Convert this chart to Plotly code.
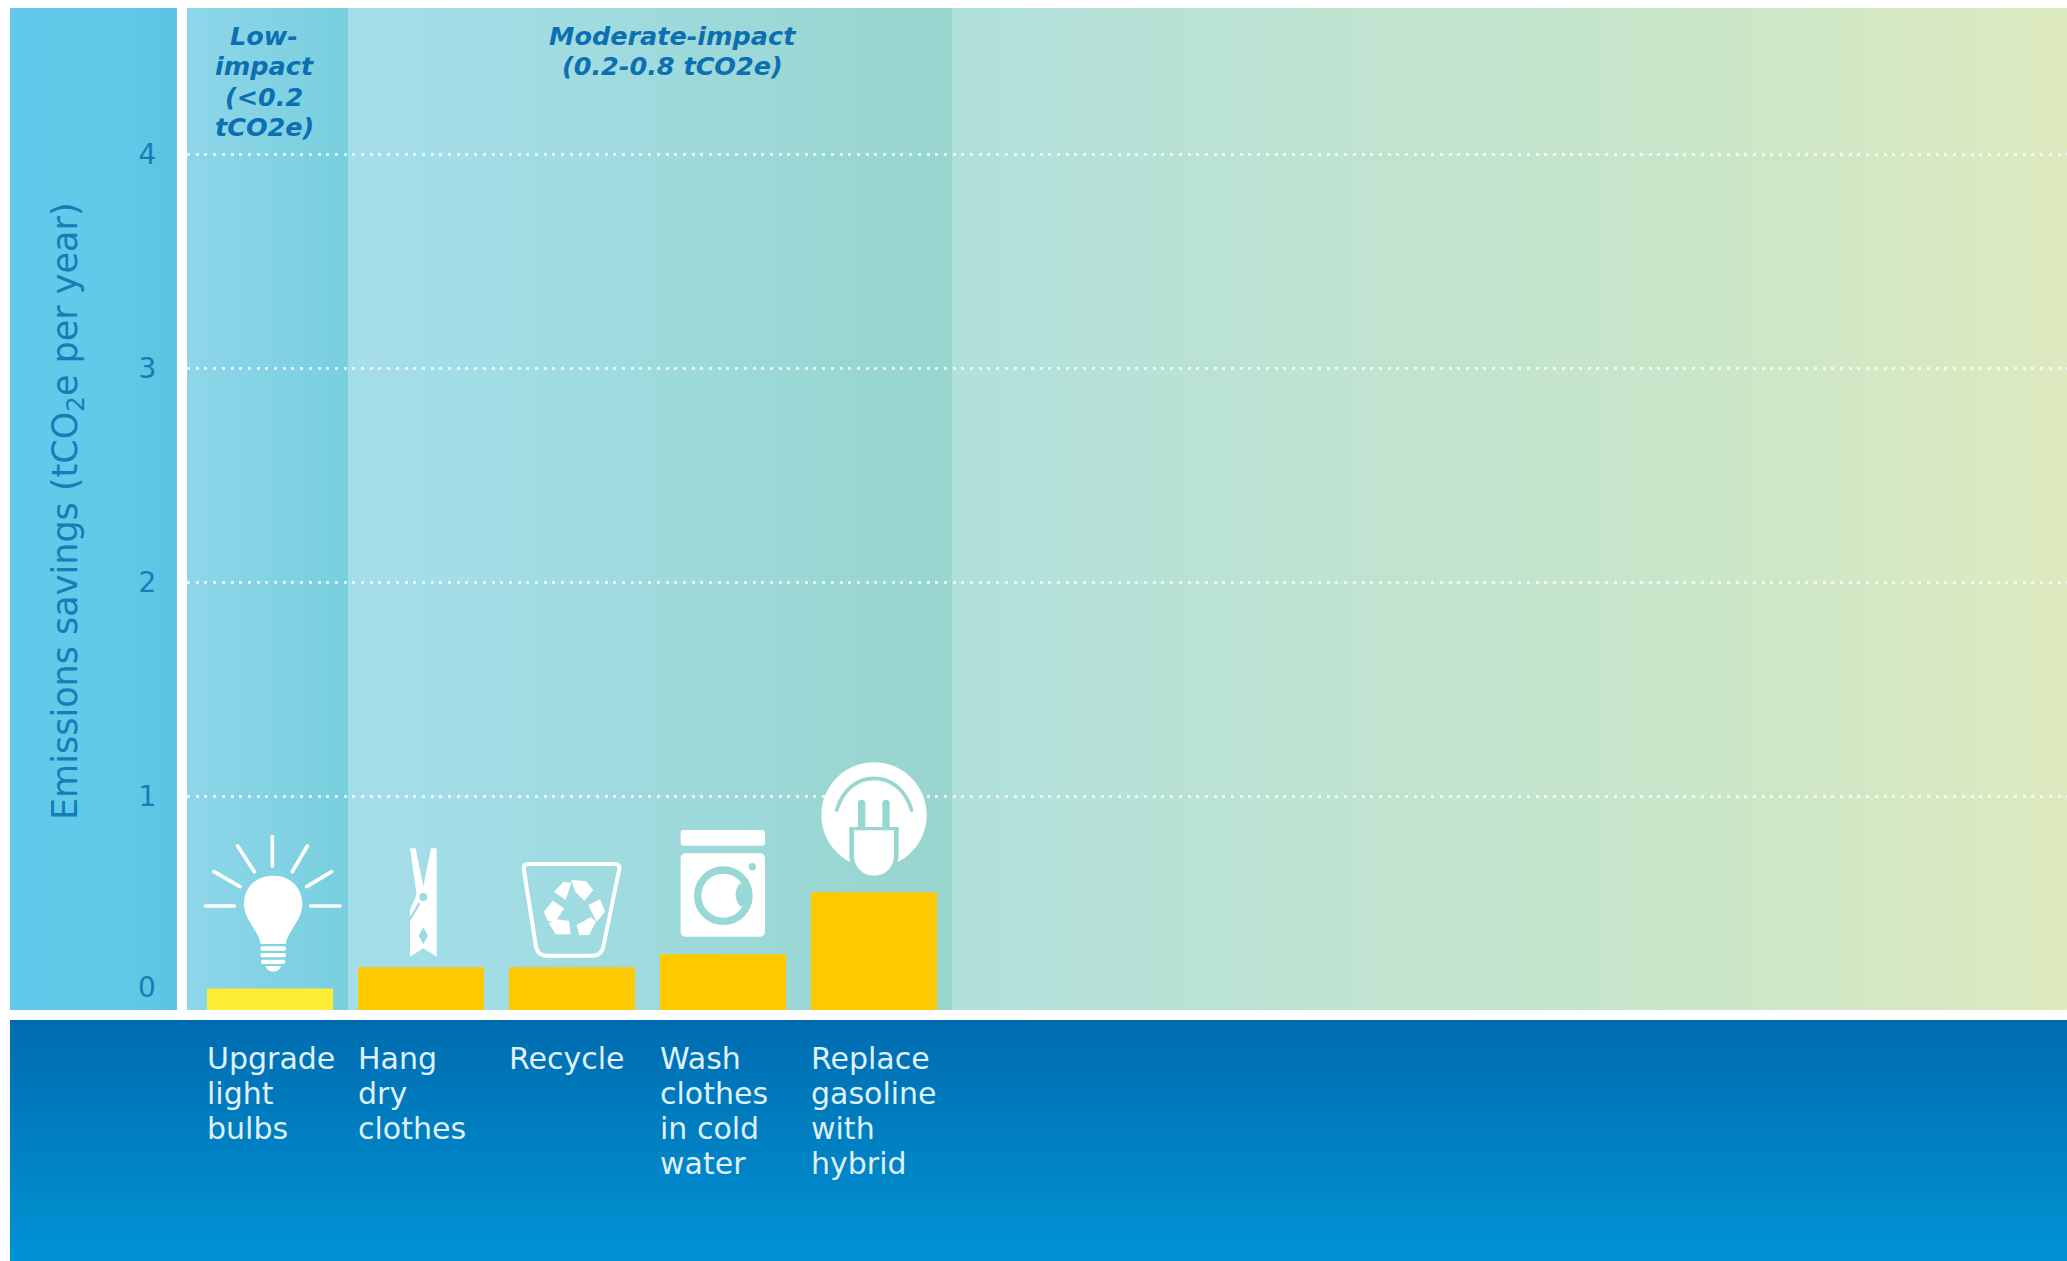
import base64
import plotly.graph_objects as go

# Chart data
categories = ["Upgrade light bulbs", "Hang dry clothes", "Recycle",
              "Wash clothes in cold water", "Replace gasoline with hybrid"]
savings = [0.10, 0.20, 0.20, 0.26, 0.55]
bar_colors = ["#fdec35", "#fec900", "#fec900", "#fec900", "#fec900"]
label_lines = [["Upgrade", "light", "bulbs"], ["Hang", "dry", "clothes"], ["Recycle"],
               ["Wash", "clothes", "in cold", "water"], ["Replace", "gasoline", "with", "hybrid"]]
y_ticks = [1, 2, 3, 4]

W, H = 2067, 1261
L, T, R, B = 187, 8, 2067, 1010
PX_PER_UNIT = 214
PW, PH = R - L, B - T
BAR_STEP = 151
FIRST_BAR_CENTER = 270
BAR_W = 126
SANS = "DejaVu Sans"
TICK_BLUE = "#127fb8"
HEAD_BLUE = "#0b6fb2"


def page_svg(body, defs=""):
    svg = (f'<svg xmlns="http://www.w3.org/2000/svg" width="{W}" height="{H}" viewBox="0 0 {W} {H}">'
           f"<defs>{defs}</defs>{body}</svg>")
    return "data:image/svg+xml;base64," + base64.b64encode(svg.encode()).decode()


def page_image(source, layer):
    # Stretches a page-sized SVG over the full canvas, expressed in paper units
    return dict(source=source, xref="paper", yref="paper", x=-L / PW, y=1 + T / PH,
                sizex=W / PW, sizey=H / PH, sizing="stretch", xanchor="left", yanchor="top",
                layer=layer)


def gradient(name, stops, vertical=False):
    end = 'x2="0" y2="1"' if vertical else 'x2="1" y2="0"'
    s = "".join(f'<stop offset="{o}" stop-color="{c}"/>' for o, c in stops)
    return f'<linearGradient id="{name}" x1="0" y1="0" {end}>{s}</linearGradient>'


def icon(x0, y0, body):
    # Icon artwork is authored on a 3x grid anchored at (x0, y0)
    return f'<g transform="translate({x0} {y0}) scale({1 / 3:.5f})">{body}</g>'


defs = (
    gradient("axis", [(0, "#62c9ea"), (0.6, "#62c9e9"), (1, "#5cc4e2")])
    + gradient("low", [(0, "#8ed6e9"), (1, "#78cfde")])
    + gradient("mod", [(0, "#a5deeb"), (0.4, "#a0dbe0"), (1, "#97d5cd")])
    + gradient("high", [(0, "#b0e0dc"), (0.3, "#bde3d2"), (0.65, "#c8e6c9"), (1, "#deeabf")])
    + gradient("base", [(0, "#006cb0"), (1, "#0093d4")], vertical=True)
)
panels = (
    '<rect x="10" y="8" width="167" height="1002" fill="url(#axis)"/>'
    '<rect x="187" y="8" width="161" height="1002" fill="url(#low)"/>'
    '<rect x="348" y="8" width="604" height="1002" fill="url(#mod)"/>'
    '<rect x="952" y="8" width="1115" height="1002" fill="url(#high)"/>'
    '<rect x="10" y="1020" width="2057" height="241" fill="url(#base)"/>'
)

# Pictograms sitting above each bar
bulb = icon(195, 830, (
    '<path d="M232 20V108M128 48L178 125M337 48L292 125M57 125L135 170M410 125L335 170'
    'M32 228H118M347 228H435" stroke="#fff" stroke-width="11" stroke-linecap="round" fill="none"/>'
    '<path d="M235 137C180 137 147 175 147 222C147 270 190 300 197 342H272C280 300 322 270 322 222'
    'C322 175 288 137 235 137Z" fill="#fff"/>'
    '<rect x="196" y="349" width="77" height="13" rx="6" fill="#fff"/>'
    '<rect x="196" y="369" width="77" height="13" rx="6" fill="#fff"/>'
    '<rect x="198" y="389" width="73" height="13" rx="6" fill="#fff"/>'
    '<path d="M212 408H258C254 430 216 430 212 408Z" fill="#fff"/>'
))

PEG_BG = "#9adae0"
peg = icon(400, 840, (
    '<path d="M30 25H47L70 140L93 25H110V350L70 325L30 350V210L50 165Z" fill="#fff"/>'
    f'<circle cx="70" cy="171" r="12" fill="{PEG_BG}"/>'
    '<circle cx="70" cy="171" r="19" fill="none" stroke="#fff" stroke-width="8"/>'
    f'<path d="M58 190L28 240" stroke="{PEG_BG}" stroke-width="7"/>'
    f'<path d="M70 262L84 287L70 312L56 287Z" fill="{PEG_BG}"/>'
))

recycle = icon(400, 840, (
    '<path d="M385 72H645C658 72 660 82 657 92L610 320C606 338 596 347 578 347H440'
    'C422 347 412 338 408 320L372 92C370 82 372 72 385 72Z" '
    'fill="none" stroke="#fff" stroke-width="12"/>'
    '<path d="M462 155L490 126L514 128L497 180Z" fill="#fff"/>'
    '<path d="M513 120L557 123L580 150L553 182L526 155Z" fill="#fff"/>'
    '<path d="M600 178L615 215L590 246L565 195Z" fill="#fff"/>'
    '<path d="M530 255L572 232L588 245L567 285L538 285Z" fill="#fff"/>'
    '<path d="M507 243L512 283L468 283L446 250L470 238Z" fill="#fff"/>'
    '<path d="M432 215L458 182L492 205L465 248L443 242Z" fill="#fff"/>'
))

WASH_BG = "#98d8d6"
washer = icon(670, 755, (
    '<rect x="32" y="225" width="253" height="47" rx="9" fill="#fff"/>'
    '<rect x="32" y="295" width="253" height="250" rx="14" fill="#fff"/>'
    f'<circle cx="160" cy="422" r="77" fill="none" stroke="{WASH_BG}" stroke-width="22"/>'
    f'<path d="M210 385C192 405 192 435 212 455L240 440V395Z" fill="{WASH_BG}"/>'
    f'<circle cx="247" cy="335" r="11" fill="{WASH_BG}"/>'
))

PLUG_BG = "#98d6d0"
plug = icon(670, 755, (
    '<circle cx="612" cy="180" r="158" fill="#fff"/>'
    f'<path d="M500 165C520 100 565 70 612 70C660 70 705 100 725 165" fill="none" '
    f'stroke="{PLUG_BG}" stroke-width="11" stroke-linecap="round"/>'
    f'<path d="M575 145V225M648 145V225" stroke="{PLUG_BG}" stroke-width="22" stroke-linecap="round"/>'
    f'<path d="M538 216H686V300C686 345 650 372 612 372C574 372 538 345 538 300Z" fill="{PLUG_BG}"/>'
    '<path d="M552 226H672V300C672 338 645 362 612 362C579 362 552 338 552 300Z" fill="#fff"/>'
))

annotations = []

# Multi-line category labels in the band under the axis, one annotation per line
for cat, lines in zip(categories, label_lines):
    for i, text in enumerate(lines):
        annotations.append(dict(
            x=cat, xref="x", xshift=-BAR_W / 2 - 2, xanchor="left",
            y=0, yref="y", yshift=-(1058 - B) - 35.2 * i, yanchor="middle",
            text=text, showarrow=False, align="left",
            font=dict(family=SANS, size=30, color="#dff1fa")))

# Impact tier captions
tier_font = dict(family=SANS, size=25.5, color=HEAD_BLUE, weight="bold", style="italic")
tiers = [
    (264, ["Low-", "impact", "(<0.2", "tCO2e)"]),
    (672, ["Moderate-impact", "(0.2-0.8 tCO2e)"]),
]
for cx, lines in tiers:
    for i, text in enumerate(lines):
        annotations.append(dict(
            x=(cx - L) / PW, xref="paper", xanchor="center",
            y=1 - (36 + 30.3 * i - T) / PH, yref="paper", yanchor="middle",
            text=text.replace("<", "&lt;"), showarrow=False, font=tier_font))

# The zero label rides above the baseline
annotations.append(dict(x=(147 - L) / PW, xref="paper", xanchor="center",
                        y=0, yref="y", yshift=23, yanchor="middle", text="0", showarrow=False,
                        font=dict(family=SANS, size=28, color=TICK_BLUE)))

# Rotated axis title
annotations.append(dict(x=(67 - L) / PW, xref="paper", xanchor="center",
                        y=1 - (511 - T) / PH, yref="paper", yanchor="middle",
                        text="Emissions savings (tCO<sub>2</sub>e per year)", textangle=-90,
                        showarrow=False, font=dict(family=SANS, size=35, color=TICK_BLUE)))

fig = go.Figure(go.Bar(x=categories, y=savings, marker=dict(color=bar_colors, line_width=0),
                       width=BAR_W / BAR_STEP, hoverinfo="skip"))

fig.update_layout(
    width=W, height=H, autosize=False,
    margin=dict(l=L, r=W - R, t=T, b=H - B, pad=0),
    paper_bgcolor="#ffffff", plot_bgcolor="rgba(0,0,0,0)",
    showlegend=False,
    xaxis=dict(type="category", categoryorder="array", categoryarray=categories,
               range=[(L - FIRST_BAR_CENTER) / BAR_STEP, (R - FIRST_BAR_CENTER) / BAR_STEP],
               showticklabels=False, showgrid=False, zeroline=False, ticks="", showline=False),
    yaxis=dict(range=[0, PH / PX_PER_UNIT], tickvals=y_ticks, ticktext=[str(v) for v in y_ticks],
               showgrid=True, gridcolor="rgba(255,255,255,0.75)", gridwidth=2.5, griddash="3px,5.7px",
               zeroline=False, showline=False, ticks="outside", ticklen=24, tickcolor="rgba(0,0,0,0)",
               tickfont=dict(family=SANS, size=28, color=TICK_BLUE)),
    images=[page_image(page_svg(panels, defs), "below"),
            page_image(page_svg(bulb + peg + recycle + washer + plug), "above")],
    annotations=annotations,
)

fig.write_html("out.html", config={"displayModeBar": False})
